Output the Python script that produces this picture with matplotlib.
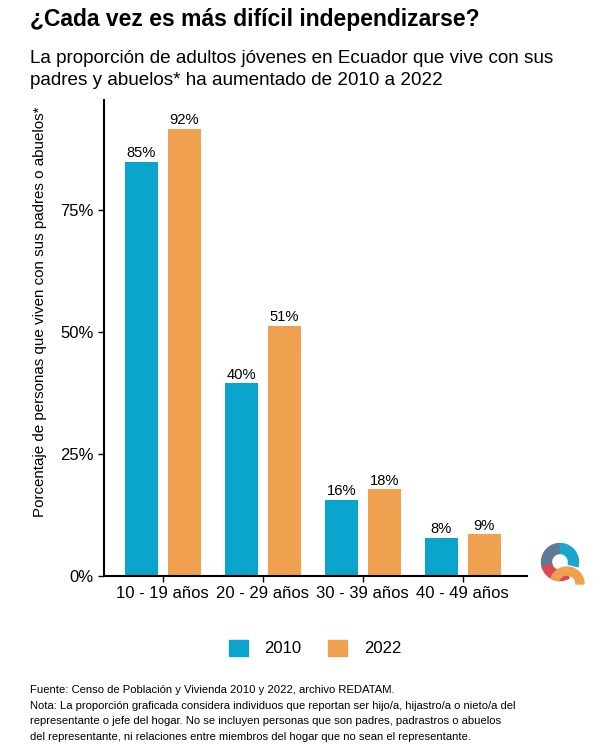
import numpy as np
import matplotlib.pyplot as plt
from matplotlib.patches import Wedge, Patch

plt.rcParams['font.family'] = ['Liberation Sans', 'DejaVu Sans']

# --- Data ---
age_groups = ["10 - 19 años", "20 - 29 años", "30 - 39 años", "40 - 49 años"]
share_2010 = [0.848, 0.395, 0.156, 0.078]
share_2022 = [0.916, 0.512, 0.178, 0.086]
labels_2010 = ["85%", "40%", "16%", "8%"]
labels_2022 = ["92%", "51%", "18%", "9%"]
years = ["2010", "2022"]

blue = "#0ba4cc"
orange = "#efa14f"

fig = plt.figure(figsize=(6, 7.5), dpi=100)
ax = fig.add_axes([0.173, 0.232, 0.705, 0.635])

x = np.arange(len(age_groups))
w = 0.33
gap = 0.10
b1 = ax.bar(x - (w + gap) / 2, share_2010, width=w, color=blue)
b2 = ax.bar(x + (w + gap) / 2, share_2022, width=w, color=orange)

for bars, labs in ((b1, labels_2010), (b2, labels_2022)):
    for rect, lab in zip(bars, labs):
        ax.text(rect.get_x() + rect.get_width() / 2, rect.get_height() + 0.003, lab,
                ha='center', va='bottom', fontsize=10.6)

ax.set_xlim(-0.59, 3.64)
ax.set_ylim(0, 0.975)
ax.set_yticks([0, 0.25, 0.5, 0.75])
ax.set_yticklabels(["0%", "25%", "50%", "75%"], fontsize=12)
ax.set_xticks(x)
ax.set_xticklabels(age_groups, fontsize=12)
ax.set_ylabel("Porcentaje de personas que viven con sus padres o abuelos*", fontsize=10.9)
ax.yaxis.set_label_coords(-0.135, 0.555)

for s in ("top", "right"):
    ax.spines[s].set_visible(False)
for s in ("left", "bottom"):
    ax.spines[s].set_linewidth(1.5)
ax.tick_params(axis='both', width=1.0, length=4, color='black')

# --- Legend ---
handles = [Patch(color=blue), Patch(color=orange)]
fig.legend(handles, years, loc='center', bbox_to_anchor=(0.525, 0.136), ncol=2,
           frameon=False, fontsize=12, handlelength=1.15, handleheight=1.15,
           columnspacing=1.6, handletextpad=1.0)

# --- Titles ---
fig.text(0.05, 0.974, "¿Cada vez es más difícil independizarse?", fontsize=16.5,
         fontweight='bold', ha='left', va='center')
fig.text(0.05, 0.907, "La proporción de adultos jóvenes en Ecuador que vive con sus\n"
         "padres y abuelos* ha aumentado de 2010 a 2022", fontsize=13.6,
         ha='left', va='center', linespacing=1.4)

# --- Footer ---
fig.text(0.05, 0.011,
         "Fuente: Censo de Población y Vivienda 2010 y 2022, archivo REDATAM.\n"
         "Nota: La proporción graficada considera individuos que reportan ser hijo/a, hijastro/a o nieto/a del\n"
         "representante o jefe del hogar. No se incluyen personas que son padres, padrastros o abuelos\n"
         "del representante, ni relaciones entre miembros del hogar que no sean el representante.",
         fontsize=8.1, ha='left', va='bottom', linespacing=1.7)

# --- Logo (Q mark), in pixel units with y pointing up ---
logo = fig.add_axes([535 / 600, 160 / 750, 50 / 600, 55 / 750])
logo.set_xlim(535, 585)
logo.set_ylim(160, 215)
logo.axis('off')
c = (560, 188)
for t1, t2, col in ((-15, 95, "#1aa6cf"), (95, 195, "#5d7b99"), (195, 300, "#dc4a4f")):
    logo.add_patch(Wedge(c, 18.5, t1, t2, width=10, color=col, clip_on=False))
logo.add_patch(Wedge((567, 166), 17, 0, 160, width=8, color="#efa14f", clip_on=False))

fig.savefig("out.png", dpi=100)
